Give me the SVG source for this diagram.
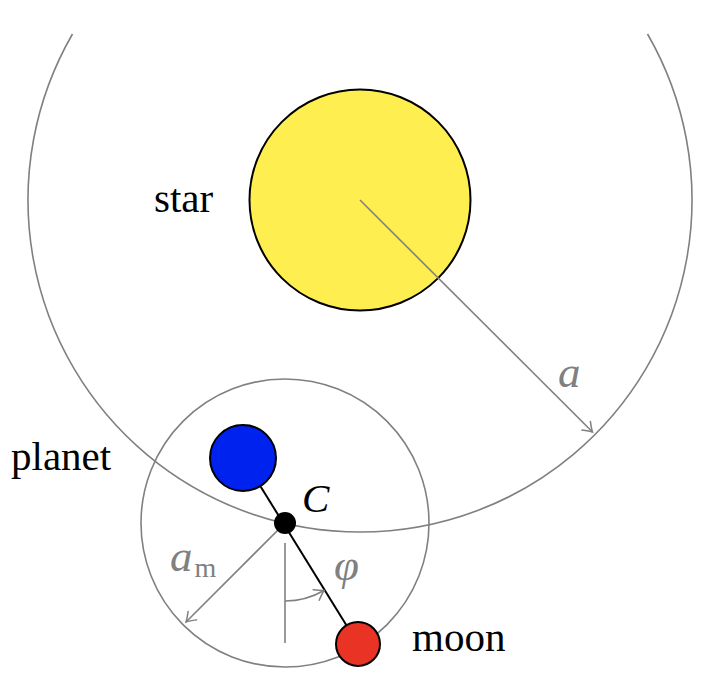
<svg xmlns="http://www.w3.org/2000/svg" width="710" height="680" viewBox="0 0 710 680">
<defs>
<marker id="arr" markerUnits="userSpaceOnUse" markerWidth="20" markerHeight="20" refX="0" refY="0" viewBox="-10 -10 20 20" orient="auto" overflow="visible">
<path d="M-9,-6 Q-3,-1.5 0,0 Q-3,1.5 -9,6" fill="none" stroke="#808080" stroke-width="1.5" stroke-linecap="round"/>
</marker>
<style>
.g{fill:none;stroke:#808080;stroke-width:1.6}
.lbl{font-family:"Liberation Serif","Times New Roman",serif;font-size:41px;fill:#000}
.gl{font-family:"Liberation Serif","Times New Roman",serif;font-size:45px;font-style:italic;fill:#808080}
</style>
</defs>
<g id="orbits">
<path class="g" d="M72.5,34 A332,332 0 1 0 647.5,34"/>
<circle class="g" cx="285" cy="523" r="144"/>
</g>
<g id="star">
<circle cx="360" cy="200" r="110.5" fill="#FFEE50" stroke="#000" stroke-width="2"/>
<text class="lbl" x="154" y="212">star</text>
</g>
<g id="connectors">
<line x1="243" y1="458" x2="358" y2="644" stroke="#000" stroke-width="2"/>
<line class="g" x1="360" y1="200" x2="592.5" y2="432" marker-end="url(#arr)"/>
<line class="g" x1="285" y1="523" x2="186" y2="622" marker-end="url(#arr)"/>
<line class="g" x1="285" y1="543" x2="285" y2="643"/>
<path class="g" d="M285,601 A78,78 0 0 0 324,590.5" marker-end="url(#arr)"/>
</g>
<g id="planet">
<circle cx="243" cy="458" r="33" fill="#0022EE" stroke="#000" stroke-width="2"/>
<text class="lbl" x="11" y="470">planet</text>
</g>
<g id="barycenter">
<circle cx="285" cy="523" r="11" fill="#000"/>
<text class="lbl" x="302" y="512" font-style="italic">C</text>
</g>
<g id="moon">
<circle cx="358" cy="644" r="22" fill="#E83325" stroke="#000" stroke-width="2"/>
<text class="lbl" x="412" y="651">moon</text>
</g>
<g id="labels">
<text class="gl" x="558" y="387">a</text>
<text class="gl" x="170" y="571">a<tspan font-style="normal" font-size="28" dx="2" dy="6">m</tspan></text>
<text class="gl" x="334" y="580">φ</text>
</g>
</svg>
